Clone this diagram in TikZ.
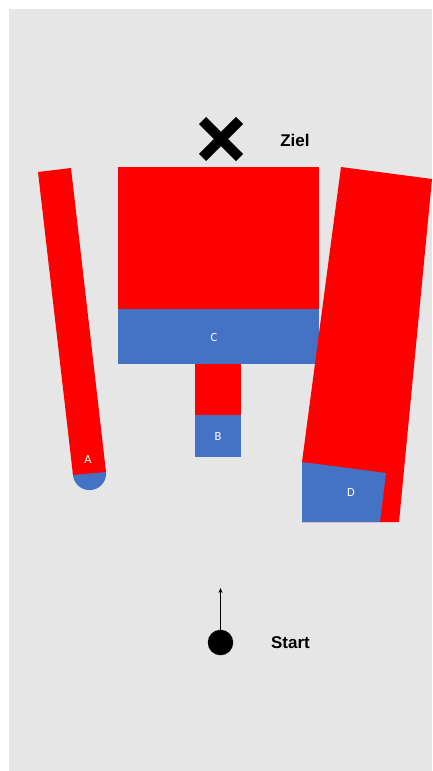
\documentclass[tikz,border=0pt]{standalone}
\usepackage{fontspec}
\setmainfont{Liberation Sans}
\newfontfamily\lblfont{Carlito}
\usepackage{tikz}
\usetikzlibrary{arrows.meta, positioning, calc, shapes.misc}

\definecolor{bgray}{HTML}{E7E6E6}
\definecolor{pred}{HTML}{FF0000}
\definecolor{pblue}{HTML}{4472C4}

\begin{document}
\begin{tikzpicture}[
  x=1pt, y=-1pt,
  >={Stealth[length=5pt,width=4pt]},
  redpart/.style={fill=pred},
  bluepart/.style={fill=pblue},
  lbl/.style={text=white, font=\lblfont\fontsize{12.5}{14}\selectfont, inner sep=0pt},
  tag/.style={font=\bfseries\fontsize{17}{20}\selectfont, inner sep=0pt}
  ]
  \useasboundingbox (0,0) rectangle (432,771);
  \fill[bgray] (9,9) rectangle (432,771);

  % part A, tilted bar with round end
  \coordinate (A1) at (38,172);
  \coordinate (A2) at (71,168);
  \coordinate (A3) at (106,472);
  \coordinate (A4) at (73,475);
  \fill[bluepart] ($(A3)!0.5!(A4)$) circle (16.6);
  \fill[redpart] (A1) -- (A2) -- (A3) -- (A4) -- cycle;
  \node[lbl] (labA) at (88,459) {A};

  % part C
  \fill[redpart] (118,167) rectangle (319,309);
  \fill[bluepart] (118,309) rectangle (319,364);
  \node[lbl] (labC) at (214,337) {C};

  % part B
  \fill[redpart] (195,364) rectangle (241,415);
  \fill[bluepart] (195,415) rectangle (241,457);
  \node[lbl] (labB) at (218,436) {B};

  % part D
  \coordinate (D1) at (341,167);
  \coordinate (D2) at (432,179);
  \coordinate (D3) at (399,522);
  \coordinate (D4) at (302,522);
  \coordinate (D5) at (302,462);
  \coordinate (D6) at (386,473);
  \coordinate (D7) at (380,522);
  \fill[redpart] (D1) -- (D2) -- (D3) -- (D4) -- (D5) -- cycle;
  \fill[bluepart] (D5) -- (D6) -- (D7) -- (D4) -- cycle;
  \node[lbl] (labD) at (351,492) {D};

  % goal
  \node[cross out, draw, line width=10pt, minimum size=27pt, inner sep=0pt] (ziel) at (221,139) {};
  \node[tag] (zieltxt) at ($(ziel.center)+(74,1)$) {Ziel};

  % start
  \node[circle, fill, minimum size=25.5pt, inner sep=0pt] (start) at (220.5,642.5) {};
  \coordinate (aim) at (220.5,588);
  \draw[->, line width=0.8pt] (start.north) -- (aim);
  \node[tag] (starttxt) at ($(start.center)+(70,0)$) {Start};
\end{tikzpicture}
\end{document}
